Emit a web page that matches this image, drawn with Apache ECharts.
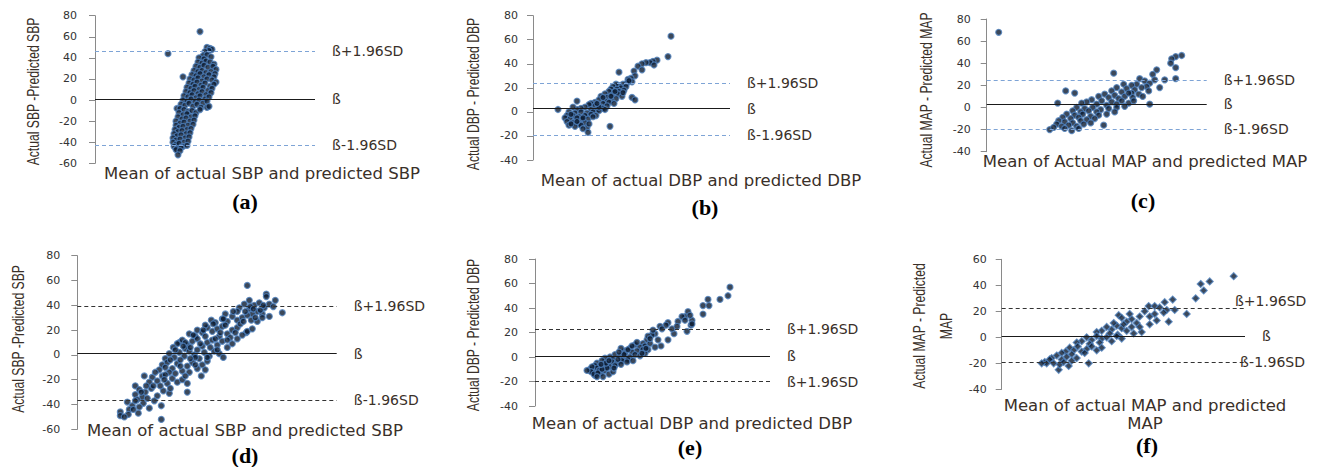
<!DOCTYPE html>
<html>
<head>
<meta charset="utf-8">
<script src="https://cdn.jsdelivr.net/npm/echarts@6/dist/echarts.min.js"></script>
<style>
  html, body { margin: 0; padding: 0; background: #fff; }
  #chart { width: 1318px; height: 467px; }
</style>
</head>
<body>
<div id="chart"></div>
<script>
// x = position along the (unlabelled) mean axis, y = difference
var ptsA = [[105,65],[73,44],[112,50],[115,49],[117,48],[114,47],[110,46],
  [108,42],[112,43],[116,41],[104,40],[109,39],
  [103,36],[107,35],[111,37],[115,36],[119,34],
  [101,32],[105,31],[109,33],[113,31],[118,32],[121,29],
  [99,28],[103,27],[107,28],[111,26],[116,27],[120,25],
  [97,24],[101,23],[105,25],[109,22],[114,24],[119,22],
  [88,22],[95,20],[99,19],[103,21],[107,18],[112,20],[117,19],[121,17],
  [94,16],[98,15],[102,17],[106,14],[110,16],[115,13],[119,15],
  [92,12],[96,11],[100,13],[104,10],[108,12],[113,9],[117,11],
  [91,8],[95,7],[99,9],[103,6],[107,8],[111,5],[116,7],
  [89,4],[93,3],[97,5],[101,2],[105,4],[110,1],[114,3],
  [88,0],[92,-1],[96,1],[100,-2],[104,0],[108,-3],[112,-1],
  [86,-4],[90,-5],[94,-3],[98,-6],[102,-4],[106,-7],[112,-7],[114,-6],[82,-8],
  [85,-8],[89,-9],[93,-11],[97,-10],[101,-12],[105,-9],
  [84,-12],[88,-14],[92,-13],[96,-16],[100,-15],
  [83,-16],[87,-18],[91,-17],[95,-20],[99,-19],
  [81,-20],[85,-22],[89,-21],[93,-24],[98,-23],
  [81,-24],[84,-26],[88,-25],[92,-28],[96,-27],
  [80,-28],[83,-30],[87,-29],[91,-32],[95,-31],
  [79,-32],[82,-34],[86,-33],[90,-36],[94,-35],
  [78,-36],[81,-38],[85,-37],[89,-40],[93,-39],
  [78,-40],[81,-42],[84,-41],[88,-44],[92,-43],
  [79,-44],[82,-46],[86,-45],[81,-47],[85,-48],[83,-52]];

var ptsB = [[138,63],[135,46],[124,43],[120,42],[117,41],[113,41],[109,40],[105,38],[121,39],[109,35],[101,34],[86,33],[102,30],[98,28],[95,27],
  [99,25],[94,24],[90,23],[86,22],[83,23],[80,21],[88,20],[93,21],[84,19],[78,19],
  [91,18],[86,17],[81,16],[76,17],[72,15],[79,14],[85,15],[89,13],[74,12],[68,13],
  [99,12],[102,10],
  [83,11],[78,10],[72,9],[66,10],[62,8],[70,7],[76,8],[58,7],[44,9],[81,7],
  [74,5],[68,4],[62,5],[56,6],[52,4],[48,3],[58,2],[64,2],[70,3],[44,2],[25,2],[40,4],
  [36,0],[42,-1],[48,0],[54,-1],[60,0],[66,1],[34,-3],[40,-3],[46,-4],[52,-3],[58,-2],[63,-3],
  [32,-5],[37,-6],[43,-7],[49,-6],[55,-6],[34,-8],[40,-9],[46,-10],[52,-9],[36,-11],[42,-12],[48,-11],
  [54,-13],[50,-14],[55,-17],[77,-12],[38,-10],[44,-5],
  [38,-2],[44,-8],[50,-5],[56,-10],[60,-4],[66,4],[72,2],[78,13],[82,17],[96,26],[90,16],[70,12],[64,7]];

var ptsC = [[12,68],[195,47],[189,46],[185,44],[184,40],[189,36],[189,26],[170,34],[166,30],[127,31],[178,25],[173,18],[79,15],[88,13],[71,4],[163,3],[63,-20],[117,-16],[85,-21],
  [153,26],[158,24],[163,22],[168,25],[150,21],[145,20],[160,19],[137,21],
  [130,18],[140,17],[148,16],[155,18],[162,15],[135,14],[125,15],[145,13],[152,12],
  [118,12],[128,11],[138,10],[146,9],[122,9],[132,8],[112,10],[156,10],[142,13],
  [105,7],[115,6],[125,5],[135,6],[142,4],[100,5],[110,3],[120,2],[130,3],[95,4],[147,6],
  [90,0],[98,-1],[106,0],[114,-2],[122,-1],[130,0],[86,-3],[94,-4],[102,-3],[110,-4],[138,1],[128,-4],
  [80,-6],[88,-7],[96,-6],[104,-8],[112,-7],[76,-9],[84,-10],[92,-9],[100,-11],[120,-6],[108,-10],
  [72,-12],[78,-13],[86,-14],[94,-12],[70,-15],[75,-17],[82,-16],[90,-17],[97,-15],[104,-14],[67,-18],[78,-19],[92,-19]];

var ptsD = [[170,56],[189,49],[189,47],[198,44],[172,44],[205,34],[84,-52],[84,-41],[67,-17],[58,-25],[110,-30],[124,-17],[102,10],[134,28],[169,18],[174,28],
  [162,38],[167,41],[172,37],[177,40],[182,42],[187,38],[192,41],[196,39],[180,35],[185,33],[175,33],[160,35],
  [145,29],[150,27],[155,31],[160,28],[165,30],[170,32],[180,27],[185,30],[138,26],[148,33],[192,31],
  [120,20],[125,18],[130,22],[135,19],[140,21],[145,23],[150,17],[155,20],[160,22],[165,16],[170,19],[128,24],[112,17],[118,15],[142,15],[175,21],
  [100,9],[105,12],[110,8],[115,11],[120,13],[125,7],[130,10],[135,12],[140,8],[145,11],[150,6],[155,9],[160,13],[96,6],[108,5],
  [92,1],[97,-2],[102,2],[107,-1],[112,3],[117,0],[122,-3],[127,2],[132,-1],[137,3],[142,1],[146,-2],[88,-3],[120,4],
  [85,-8],[90,-6],[95,-11],[100,-7],[105,-13],[110,-9],[115,-6],[120,-11],[125,-8],[130,-5],[82,-12],[92,-14],[112,-14],[128,-12],
  [75,-18],[80,-21],[85,-17],[90,-23],[95,-19],[100,-22],[105,-20],[72,-22],[88,-16],[110,-23],
  [62,-28],[68,-30],[74,-27],[80,-33],[86,-29],[92,-31],[58,-32],[65,-34],[76,-25],
  [50,-38],[55,-41],[60,-36],[66,-39],[72,-43],[52,-44],[58,-37],[62,-42],
  [43,-46],[43,-49],[51,-48],[61,-47],[47,-50],
  [98,4],[103,-4],[108,10],[113,6],[118,-2],[123,9],[128,15],[133,6],[138,13],[143,18],[148,24],[153,14],[158,18],[163,25],[168,35],[173,39],[178,30],[183,36],
  [88,-10],[93,-4],[98,-15],[103,-9],[108,-17],[113,-3],[118,-8],[78,-14],[83,-25],[87,-20],[93,-27],[70,-35],[77,-37],[64,-30],[56,-44],[69,-25],
  [106,7],[116,16],[126,20],[136,25],[146,29],[156,35],[166,27],[176,37],[186,40],[150,12],[140,4],[130,-2]];

var ptsE = [[195,57],[193,50],[185,47],[173,47],[168,42],[174,42],[168,35],[153,37],[150,33],[157,30],[143,29],[156,26],[152,21],[139,19],[133,14],[126,9],
  [147,33],[155,34],[157,27],[150,30],[133,28],[131,26],[125,25],[127,23],[120,19],[117,18],[123,14],[112,14],[108,11],[137,23],[142,25],[118,22],[113,17],
  [100,10],[105,8],[110,9],[115,11],[95,7],[102,5],[108,6],[90,5],[97,4],[113,6],[120,8],[86,7],
  [80,2],[85,1],[90,3],[95,0],[100,2],[105,1],[110,3],[75,0],[88,-1],[70,-1],[93,-2],[78,-2],
  [62,-5],[67,-3],[72,-6],[77,-4],[82,-5],[87,-3],[65,-8],[70,-7],[60,-7],[75,-8],[80,-7],[92,-4],
  [55,-10],[58,-12],[62,-9],[66,-13],[70,-11],[74,-14],[60,-15],[68,-16],[64,-11],[72,-9],[78,-12],[57,-8],
  [56,-12],[59,-14],[63,-13],[67,-10],[71,-5],[74,-3],[79,-9],[83,-2],[86,-6],[89,2],[93,6],[97,9],[102,12],[107,3],[111,7],[115,15],[98,-3],[84,4],[62,-16],[66,-6],[52,-11]];

var ptsF = [[232,47],[208,43],[199,41],[202,36],[194,30],[185,18],[171,29],[163,27],[147,24],[153,24],[173,21],[167,12],[117,17],[57,-25],[87,-20],[43,-19],
  [165,21],[162,19],[153,18],[148,16],[138,16],[135,11],[140,4],[138,8],[148,10],[155,13],[158,23],[143,20],[130,14],[125,12],[120,15],[128,18],
  [105,8],[110,6],[115,9],[120,7],[125,5],[130,8],[100,5],[108,3],[116,2],[95,4],[132,3],[122,10],[112,11],
  [85,0],[90,-2],[95,1],[100,-1],[105,0],[110,-3],[115,1],[80,-3],[88,-5],[120,-1],[98,-4],[75,-4],
  [68,-8],[72,-10],[76,-7],[80,-11],[85,-9],[90,-7],[95,-10],[64,-11],[70,-13],[60,-12],[83,-12],[100,-8],
  [50,-16],[55,-14],[60,-17],[65,-15],[70,-18],[75,-16],[45,-20],[52,-20],[58,-21],[48,-17],[62,-19],[40,-20],[67,-22]];

// bias (ß), upper and lower limits of agreement
var limitsA = [1, 46.5, -43];
var limitsB = [2.8, 24, -19.4];
var limitsC = [2.9, 24.6, -19.4];
var limitsD = [1, 39.4, -36.6];
var limitsE = [1, 22.6, -20];
var limitsF = [1, 22.3, -19.2];

var limitLabels = ['ß', 'ß+1.96SD', 'ß-1.96SD'];
var limitLabelsE = ['ß', 'ß+1.96SD', 'ß+1.96SD'];

var yTitles = ['Actual SBP -Predicted SBP', 'Actual DBP - Predicted DBP', 'Actual MAP - Predicted MAP',
  'Actual SBP -Predicted SBP', 'Actual DBP - Predicted DBP', 'Actual MAP - Predicted\nMAP'];
var xTitles = ['Mean of actual SBP and predicted SBP', 'Mean of actual DBP and predicted DBP',
  'Mean of Actual MAP and predicted MAP', 'Mean of actual SBP and predicted SBP',
  'Mean of actual DBP and predicted DBP', 'Mean of actual MAP and predicted\nMAP'];
var panelTags = ['(a)', '(b)', '(c)', '(d)', '(e)', '(f)'];

var yMins = [-60, -40, -40, -60, -40, -40];
var yMaxs = [80, 80, 80, 80, 80, 60];

// layout (pixels)
var layout = [
  {left: 95, top: 15.7, width: 220, height: 147.6, yt: [33, 91.5], xt: [262, 173], tag: [245, 201], margin: 18, dash: '#7ea4d6'},
  {left: 533, top: 15.7, width: 197, height: 144.3, yt: [473, 94], xt: [701, 180], tag: [705, 207], margin: 15, dash: '#7ea4d6'},
  {left: 986.7, top: 19, width: 220, height: 132.7, yt: [926, 90], xt: [1145, 161.7], tag: [1143, 200], margin: 16, dash: '#7ea4d6'},
  {left: 77.3, top: 255.7, width: 259.4, height: 173.6, yt: [18, 339], xt: [245, 430], tag: [245, 455], margin: 17, dash: '#333333'},
  {left: 535, top: 259, width: 235, height: 147, yt: [473, 335], xt: [692, 423.3], tag: [690, 447], margin: 17, dash: '#333333'},
  {left: 1001.7, top: 259.3, width: 243.3, height: 130, yt: [933, 326], xt: [1145, 414], tag: [1147, 445], margin: 15, dash: '#333333'}
];

var allPts = [ptsA, ptsB, ptsC, ptsD, ptsE, ptsF];
var allLimits = [limitsA, limitsB, limitsC, limitsD, limitsE, limitsF];

var textCol = '#3a3029';
var grids = [], xAxes = [], yAxes = [], series = [], graphics = [];

layout.forEach(function (L, i) {
  grids.push({left: L.left, top: L.top, width: L.width, height: L.height});
  xAxes.push({type: 'value', gridIndex: i, min: 0, max: L.width, show: false});
  yAxes.push({
    type: 'value', gridIndex: i, min: yMins[i], max: yMaxs[i], interval: 20,
    axisLine: {show: true, lineStyle: {color: '#8a8a8a', width: 1}},
    axisTick: {show: true, length: 6, lineStyle: {color: '#8a8a8a'}},
    splitLine: {show: false},
    axisLabel: {margin: L.margin, fontFamily: 'DejaVu Sans', fontSize: 11, color: '#333'}
  });

  var lim = allLimits[i];
  var labs = (i === 4) ? limitLabelsE : limitLabels;
  var lblBase = {show: true, position: 'end', distance: 17, fontFamily: 'DejaVu Sans', fontSize: 14, color: textCol, lineHeight: 15};
  var mlData = [
    {yAxis: lim[0], lineStyle: {type: 'solid', color: '#1a1a1a', width: 1.2}, label: Object.assign({}, lblBase, {formatter: labs[0]})},
    {yAxis: lim[1], lineStyle: {type: [4, 3], color: L.dash, width: 1}, label: Object.assign({}, lblBase, {formatter: labs[1]})},
    {yAxis: lim[2], lineStyle: {type: [4, 3], color: L.dash, width: 1}, label: Object.assign({}, lblBase, {formatter: labs[2]})}
  ];
  if (i === 5) {
    // in (f) the upper label sits above the end of its line
    mlData[1].label.distance = -10;
    mlData[1].label.formatter = labs[1] + '\n ';
    mlData[2].label.distance = -5;
  }
  series.push({
    type: 'scatter', xAxisIndex: i, yAxisIndex: i,
    data: allPts[i],
    symbol: i === 5 ? 'diamond' : 'circle',
    symbolSize: i === 5 ? 7 : 6,
    itemStyle: {color: '#0b1a30', borderColor: '#4f81bd', borderWidth: 1.2},
    silent: true,
    markLine: {silent: true, symbol: 'none', data: mlData}
  });

  graphics.push({
    type: 'text', x: L.yt[0], y: L.yt[1], rotation: Math.PI / 2, scaleX: 0.76,
    style: {text: yTitles[i], font: '16px "Liberation Sans"', fill: textCol,
      align: 'center', verticalAlign: 'middle', textAlign: 'center', textVerticalAlign: 'middle', lineHeight: 27}
  });
  graphics.push({
    type: 'text', x: L.xt[0], y: L.xt[1],
    style: {text: xTitles[i], font: '16.5px "DejaVu Sans"', fill: textCol,
      align: 'center', verticalAlign: 'middle', textAlign: 'center', textVerticalAlign: 'middle', lineHeight: 18}
  });
  graphics.push({
    type: 'text', x: L.tag[0], y: L.tag[1],
    style: {text: panelTags[i], font: 'bold 22px "Liberation Serif"', fill: '#000',
      align: 'center', verticalAlign: 'middle', textAlign: 'center', textVerticalAlign: 'middle'}
  });
});

var chart = echarts.init(document.getElementById('chart'), null, {renderer: 'svg'});
chart.setOption({
  animation: false,
  backgroundColor: '#fff',
  grid: grids,
  xAxis: xAxes,
  yAxis: yAxes,
  series: series,
  graphic: graphics
});
</script>
</body>
</html>
